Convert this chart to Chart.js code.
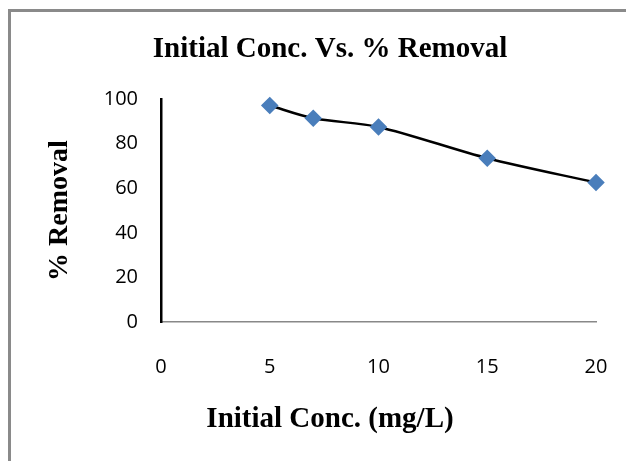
<!DOCTYPE html>
<html>
<head>
<meta charset="utf-8">
<script src="https://cdn.jsdelivr.net/npm/chart.js@4"></script>
<style>
  html, body { margin: 0; padding: 0; background: #fff; overflow: hidden; }
  #wrap { position: relative; width: 626px; height: 461px; }
  #frame { position: absolute; left: 8px; top: 9px; width: 640px; height: 460px;
           border-left: 3px solid #8a8a8a; border-top: 3px solid #8a8a8a; pointer-events: none; }
</style>
</head>
<body>
<div id="wrap">
  <canvas id="chart" width="626" height="461"></canvas>
  <div id="frame"></div>
</div>
<script>
const concentration = [5, 7, 10, 15, 20];
const removal = [97, 91.3, 87.4, 73.4, 62.5];
const xTicks = [0, 5, 10, 15, 20];
const yTicks = [0, 20, 40, 60, 80, 100];

const serif = "'Liberation Serif', 'Times New Roman', serif";
const tickFont = { family: "'Open Sans', sans-serif", size: 20 };

new Chart(document.getElementById('chart'), {
  type: 'scatter',
  data: {
    datasets: [{
      label: '% Removal',
      data: concentration.map((x, i) => ({ x: x, y: removal[i] })),
      showLine: true,
      clip: false,
      borderColor: '#000',
      borderWidth: 2.5,
      tension: 0.3,
      pointStyle: 'rectRot',
      pointRadius: 7,
      pointHoverRadius: 7,
      pointBackgroundColor: '#4a7ebb',
      pointBorderColor: '#4a7ebb'
    }]
  },
  options: {
    responsive: false,
    animation: false,
    layout: { padding: { left: 34, right: 0, top: 0, bottom: 0 } },
    plugins: {
      legend: { display: false },
      tooltip: { enabled: false },
      title: {
        display: true,
        text: 'Initial Conc. Vs. % Removal',
        color: '#000',
        font: { family: serif, size: 29, weight: 'bold' },
        padding: { top: 32, bottom: 32 }
      },
      subtitle: {
        display: true,
        position: 'bottom',
        text: 'Initial Conc. (mg/L)',
        color: '#000',
        font: { family: serif, size: 29, weight: 'bold' },
        padding: { top: 18, bottom: 24 }
      }
    },
    scales: {
      x: {
        type: 'linear',
        min: 0,
        max: 20,
        afterBuildTicks: s => { s.ticks = xTicks.map(v => ({ value: v })); },
        grid: { display: false, drawTicks: true, tickLength: 28 },
        border: { display: true, color: '#888', width: 1.5 },
        ticks: { color: '#000', font: tickFont, padding: 5 }
      },
      y: {
        min: 0,
        max: 100,
        afterBuildTicks: s => { s.ticks = yTicks.map(v => ({ value: v })); },
        afterFit: s => { s.width = 127; },
        grid: { display: false, drawTicks: false },
        border: { display: true, color: '#000', width: 2.5 },
        ticks: { color: '#000', font: tickFont, padding: 23 },
        title: {
          display: true,
          text: '% Removal',
          color: '#000',
          font: { family: serif, size: 28, weight: 'bold' },
          padding: { top: 9, bottom: 4 }
        }
      },
      y2: {
        type: 'linear',
        position: 'right',
        grid: { display: false, drawTicks: false },
        border: { display: false },
        ticks: { display: false },
        afterFit: s => { s.width = 30; }
      }
    }
  }
});
</script>
</body>
</html>
